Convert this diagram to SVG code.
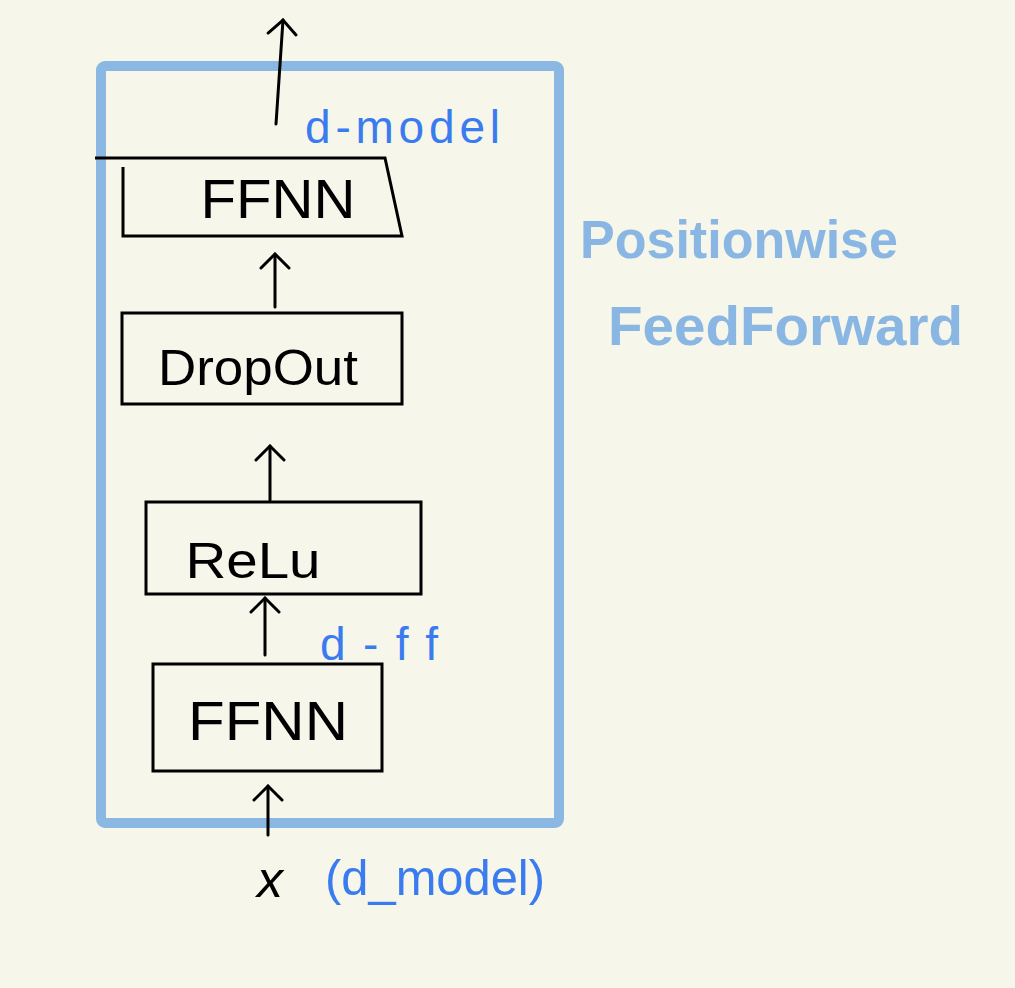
<svg xmlns="http://www.w3.org/2000/svg" width="1015" height="988" viewBox="0 0 1015 988">
<style>
.box{fill:none;stroke:#000;stroke-width:3;stroke-linejoin:miter}
.lbl{font-family:"Liberation Sans",Arial,sans-serif;fill:#000}
.blue{font-family:"Liberation Sans",Arial,sans-serif;fill:#3a7cf0}
.edge{fill:none;stroke:#000;stroke-width:3;stroke-linecap:round}
.big{font-family:"Liberation Sans",Arial,sans-serif;font-weight:bold;fill:#6ea6e0;fill-opacity:0.8}
</style>
<defs>
<marker id="ah" viewBox="-20 -20 40 40" markerWidth="40" markerHeight="40" refX="0" refY="0" orient="auto" markerUnits="userSpaceOnUse">
<path d="M-14,-14 L0,0 L-14,14" fill="none" stroke="#000" stroke-width="3" stroke-linecap="round"/>
</marker>
</defs>
<rect width="1015" height="988" fill="#f6f6ea"/>
<rect id="container" x="101" y="66" width="458" height="757" rx="4" fill="none" stroke="#8ab8e2" stroke-width="10"/>
<g id="ffnn-top">
<path class="box" d="M95,158 L385,158 L402,236 L123,236 L123,167"/>
<text class="lbl" x="278" y="218" font-size="56" text-anchor="middle" textLength="155" lengthAdjust="spacingAndGlyphs">FFNN</text>
</g>
<g id="dropout">
<rect class="box" x="122" y="313" width="280" height="91"/>
<text class="lbl" x="258" y="385" font-size="50" text-anchor="middle" textLength="200" lengthAdjust="spacingAndGlyphs">DropOut</text>
</g>
<g id="relu">
<rect class="box" x="146" y="502" width="275" height="92"/>
<text class="lbl" x="253" y="578" font-size="50" text-anchor="middle" textLength="135" lengthAdjust="spacingAndGlyphs">ReLu</text>
</g>
<g id="ffnn-bottom">
<rect class="box" x="153" y="664" width="229" height="107"/>
<text class="lbl" x="268" y="740" font-size="56" text-anchor="middle" textLength="160" lengthAdjust="spacingAndGlyphs">FFNN</text>
</g>
<g id="input">
<text class="lbl" x="270" y="897" font-size="52" text-anchor="middle" font-style="italic">x</text>
</g>
<g id="connectors">
<line class="edge" x1="276" y1="124" x2="283" y2="20" marker-end="url(#ah)"/>
<line class="edge" x1="275" y1="307" x2="275" y2="254" marker-end="url(#ah)"/>
<line class="edge" x1="270" y1="500" x2="270" y2="446" marker-end="url(#ah)"/>
<line class="edge" x1="265" y1="655" x2="265" y2="598" marker-end="url(#ah)"/>
<line class="edge" x1="268" y1="835" x2="268" y2="786" marker-end="url(#ah)"/>
</g>
<g id="labels">
<text class="blue" x="305" y="143" font-size="46" textLength="195" lengthAdjust="spacing">d-model</text>
<text class="blue" x="320" y="660" font-size="46" textLength="118" lengthAdjust="spacing">d-ff</text>
<text class="blue" x="325" y="895" font-size="50" textLength="220" lengthAdjust="spacingAndGlyphs">(d_model)</text>
<text class="big" x="580" y="258" font-size="54" textLength="318" lengthAdjust="spacingAndGlyphs">Positionwise</text>
<text class="big" x="608" y="345" font-size="56" textLength="355" lengthAdjust="spacingAndGlyphs">FeedForward</text>
</g>
</svg>
